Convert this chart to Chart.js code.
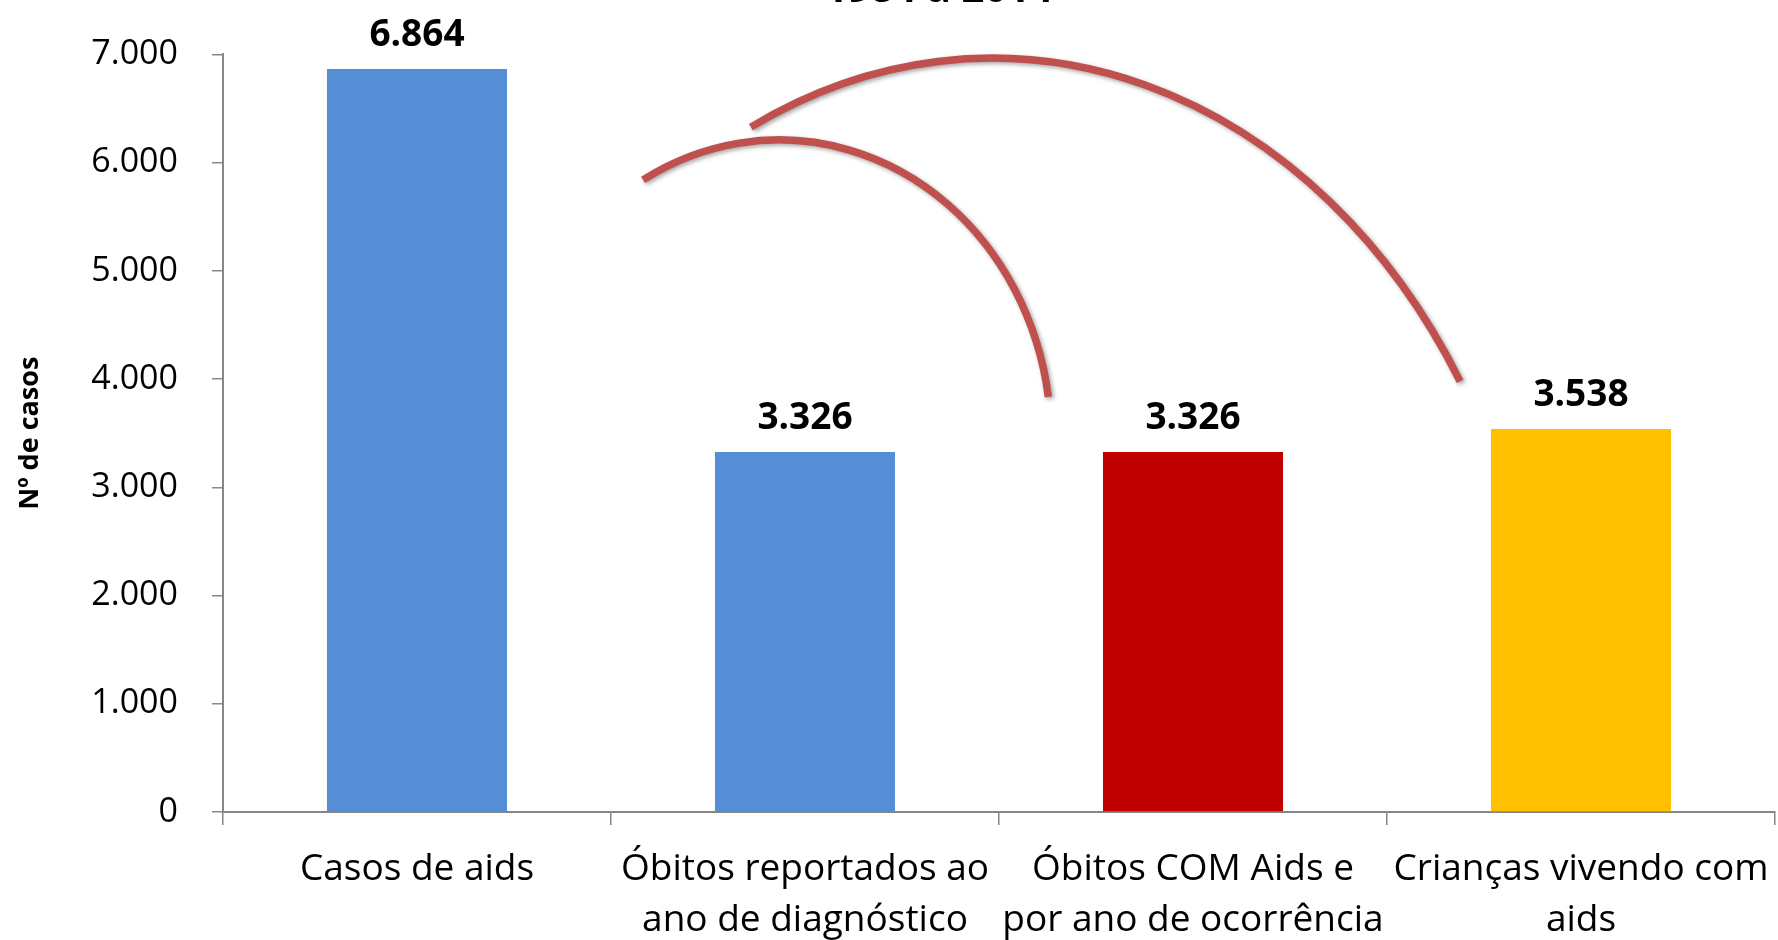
<!DOCTYPE html>
<html>
<head>
<meta charset="utf-8">
<script src="https://cdn.jsdelivr.net/npm/chart.js@4.4.1/dist/chart.umd.min.js"></script>
<style>
  html, body { margin: 0; padding: 0; background: #fff; }
  canvas { display: block; }
</style>
</head>
<body>
<canvas id="casesChart" width="1778" height="940"></canvas>
<script>
// Chart values
const categories = [
    ['Casos de aids'],
    ['Óbitos reportados ao', 'ano de diagnóstico'],
    ['Óbitos COM Aids e', 'por ano de ocorrência'],
    ['Crianças vivendo com', 'aids']
];
const caseCounts = [6864, 3326, 3326, 3538];
const barColors = ['#558ED5', '#558ED5', '#C00000', '#FFC000'];
const yTickValues = [0, 1000, 2000, 3000, 4000, 5000, 6000, 7000];
const yAxisTitle = 'Nº de casos';
const titleText = '1984 a 2014 *';

const FONT = "'Open Sans', 'Noto Sans', sans-serif";

// thousands with a dot, as in pt-BR
function formatNumber(v) {
    return String(v).replace(/\B(?=(\d{3})+(?!\d))/g, '.');
}

// Curved arrows drawn over the bars, placed in data units (category index, value)
const arcs = [
    { cx: 0.933, cy: 3450, rx: 0.701, ry: 2760, start: -120, end: -8 },
    { cx: 1.482, cy: 672, rx: 1.418, ry: 6293, start: -116, end: -31.7 }
];

const arcPlugin = {
    id: 'arcs',
    afterDatasetsDraw(chart) {
        const ctx = chart.ctx;
        const x = chart.scales.x, y = chart.scales.y;
        const catW = x.getPixelForValue(1) - x.getPixelForValue(0);
        ctx.save();
        ctx.strokeStyle = '#C0504D';
        ctx.lineWidth = 7.5;
        ctx.shadowColor = 'rgba(0,0,0,0.35)';
        ctx.shadowBlur = 4;
        ctx.shadowOffsetX = 2;
        ctx.shadowOffsetY = 2;
        arcs.forEach(a => {
            const px = x.getPixelForValue(a.cx);
            const py = y.getPixelForValue(a.cy);
            const rx = a.rx * catW;
            const ry = y.getPixelForValue(0) - y.getPixelForValue(a.ry);
            ctx.beginPath();
            ctx.ellipse(px, py, rx, ry, 0, a.start * Math.PI / 180, a.end * Math.PI / 180);
            ctx.stroke();
        });
        ctx.restore();
    }
};

const labelPlugin = {
    id: 'valueLabels',
    afterDatasetsDraw(chart) {
        const ctx = chart.ctx;
        const meta = chart.getDatasetMeta(0);
        ctx.save();
        ctx.font = 'bold 37px ' + FONT;
        ctx.fillStyle = '#000';
        ctx.textAlign = 'center';
        ctx.textBaseline = 'alphabetic';
        meta.data.forEach((bar, i) => {
            ctx.fillText(formatNumber(caseCounts[i]), bar.x, bar.y - 23);
        });
        // title, mostly cut off at the top edge
        ctx.font = 'bold 40px ' + FONT;
        ctx.fillText(titleText, 955, 2);
        ctx.restore();
    }
};

new Chart(document.getElementById('casesChart'), {
    type: 'bar',
    data: {
        labels: categories,
        datasets: [{
            data: caseCounts,
            backgroundColor: barColors,
            borderWidth: 0,
            categoryPercentage: 1,
            barPercentage: 0.464
        }]
    },
    options: {
        responsive: false,
        animation: false,
        devicePixelRatio: 1,
        layout: { padding: { top: 51, right: 3, left: 0, bottom: 0 } },
        plugins: {
            legend: { display: false },
            tooltip: { enabled: false }
        },
        scales: {
            x: {
                afterFit: s => {
                    s.height = 128;
                    s.paddingLeft = 0;
                    s.paddingRight = 0;
                },
                grid: {
                    offset: true,
                    drawOnChartArea: false,
                    drawTicks: true,
                    tickLength: 13,
                    color: '#868686',
                    lineWidth: 1.5
                },
                border: { color: '#868686', width: 2 },
                ticks: {
                    color: '#000',
                    padding: 19,
                    maxRotation: 0,
                    autoSkip: false,
                    font: { family: FONT, size: 37, lineHeight: 1.38 }
                }
            },
            y: {
                min: 0,
                max: 7000,
                afterFit: s => { s.width = 223; },
                afterBuildTicks: s => { s.ticks = yTickValues.map(v => ({ value: v })); },
                grid: {
                    drawOnChartArea: false,
                    drawTicks: true,
                    tickLength: 11,
                    color: '#868686',
                    lineWidth: 1.5
                },
                border: { color: '#868686', width: 2 },
                ticks: {
                    color: '#000',
                    padding: 34,
                    font: { family: FONT, size: 34 },
                    callback: v => formatNumber(v)
                },
                title: {
                    display: true,
                    text: yAxisTitle,
                    color: '#000',
                    padding: { top: 14, bottom: 0 },
                    font: { family: FONT, size: 27, weight: 'bold' }
                }
            }
        }
    },
    plugins: [arcPlugin, labelPlugin]
});
</script>
</body>
</html>
